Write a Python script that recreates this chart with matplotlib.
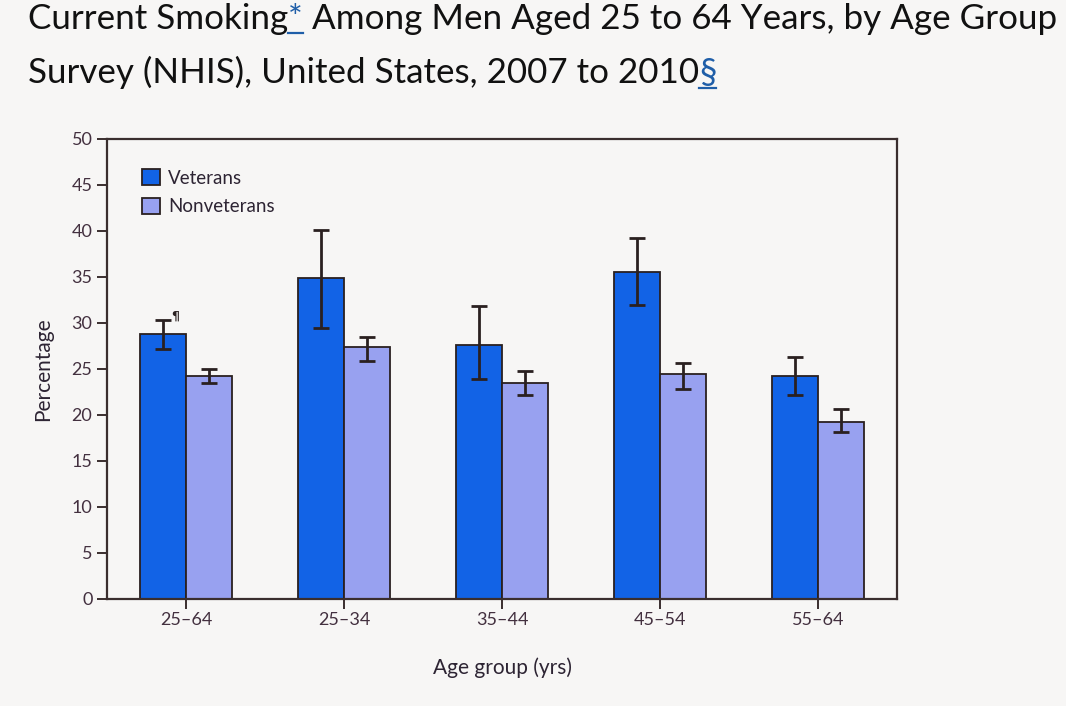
import matplotlib
matplotlib.use("Agg")
import matplotlib.pyplot as plt
from matplotlib.lines import Line2D
import numpy as np

# data
age_groups = ["25\u201364", "25\u201334", "35\u201344", "45\u201354", "55\u201364"]
veterans = [28.8, 34.9, 27.6, 35.5, 24.2]
veterans_lo = [27.2, 29.4, 23.9, 32.0, 22.2]
veterans_hi = [30.3, 40.1, 31.8, 39.2, 26.3]
nonveterans = [24.2, 27.4, 23.5, 24.4, 19.2]
nonveterans_lo = [23.5, 25.9, 22.2, 22.8, 18.1]
nonveterans_hi = [25.0, 28.5, 24.8, 25.7, 20.7]

bg = "#f7f6f5"
vet_color = "#1263e6"
nonvet_color = "#98a1f0"
edge = "#2a2020"
tick_color = "#43303f"

fig = plt.figure(figsize=(10.66, 7.06), dpi=100, facecolor=bg)
ax = fig.add_axes([0.1004, 0.1516, 0.7411, 0.6516], facecolor=bg)

x = np.arange(len(age_groups))
w = 0.29
v = np.array(veterans)
n = np.array(nonveterans)
v_err = [v - np.array(veterans_lo), np.array(veterans_hi) - v]
n_err = [n - np.array(nonveterans_lo), np.array(nonveterans_hi) - n]

err_kw = dict(ecolor=edge, elinewidth=2.0, capsize=5.8, capthick=2.0)
ax.bar(x - w / 2, v, w, color=vet_color, edgecolor=edge, linewidth=1.3,
       yerr=v_err, error_kw=err_kw, label="Veterans", zorder=2)
ax.bar(x + w / 2, n, w, color=nonvet_color, edgecolor=edge, linewidth=1.3,
       yerr=n_err, error_kw=err_kw, label="Nonveterans", zorder=2)

# pilcrow footnote mark next to first veteran error bar
ax.text(x[0] - w / 2 + 0.075, veterans_hi[0] + 0.4, "\u00b6", fontsize=9,
        fontweight="bold", color=edge, ha="center", va="center", family="DejaVu Sans")

ax.set_xlim(-0.5, 4.5)
ax.set_ylim(0, 50)
ax.set_yticks(range(0, 51, 5))
ax.set_xticks(x)
ax.set_xticklabels(age_groups)

for s in ax.spines.values():
    s.set_color("#3a2e2e")
    s.set_linewidth(1.6)

ax.tick_params(axis="both", direction="out", length=7.5, width=1.4, color="#3a2e2e",
               labelsize=13, labelcolor=tick_color)
ax.tick_params(axis="y", pad=3)
ax.tick_params(axis="x", pad=2)
for lab in ax.get_xticklabels() + ax.get_yticklabels():
    lab.set_family("Lato")

ax.set_ylabel("Percentage", fontsize=15, family="Lato", color="#2d2433", labelpad=13)
ax.set_xlabel("Age group (yrs)", fontsize=15, family="Lato", color="#2d2433", labelpad=21)

leg = ax.legend(loc="upper left", bbox_to_anchor=(0.032, 0.955), frameon=False,
                handlelength=0.96, handleheight=0.96, labelspacing=0.6, borderpad=0,
                handletextpad=0.45, prop={"family": "Lato", "size": 13.5})
for t in leg.get_texts():
    t.set_color("#2d2433")

# title, two lines, with blue underlined footnote links
renderer = fig.canvas.get_renderer()
title_kw = dict(fontsize=25.2, family="Lato", va="baseline", ha="left")
link_color = "#1f5ea8"


def place(parts, x0, y0):
    xpos = x0
    for txt, col, underline in parts:
        t = fig.text(xpos, y0, txt, color=col, **title_kw)
        bb = t.get_window_extent(renderer).transformed(fig.transFigure.inverted())
        if underline:
            fig.add_artist(Line2D([bb.x0, bb.x1], [y0 - 0.006, y0 - 0.006],
                                  transform=fig.transFigure, color=col, linewidth=1.6))
        xpos = bb.x1


place([("Current Smoking", "#111111", False), ("*", link_color, True),
       (" Among Men Aged 25 to 64 Years, by Age Group", "#111111", False)],
      0.026, 0.959)
place([("Survey (NHIS), United States, 2007 to 2010", "#111111", False),
       ("\u00a7", link_color, True)], 0.026, 0.882)

fig.savefig("out.png", dpi=100, facecolor=bg)
